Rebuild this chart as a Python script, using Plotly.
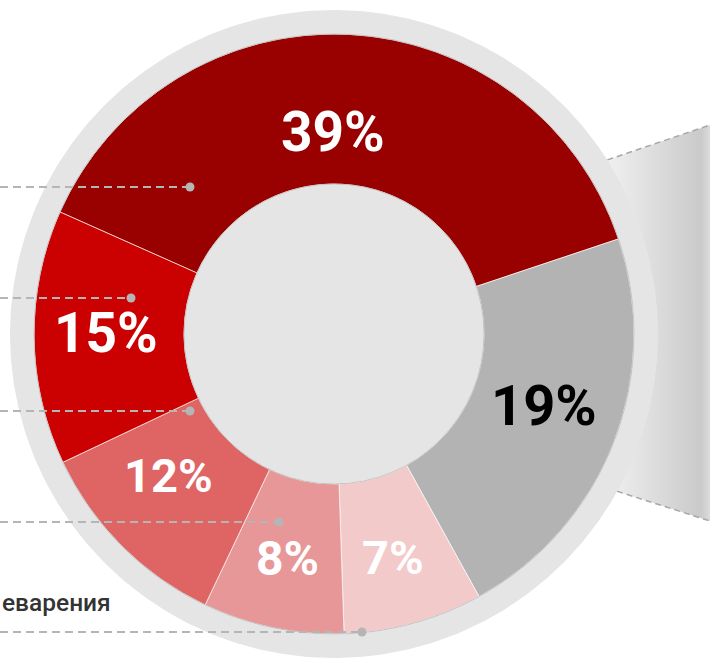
import numpy as np
import plotly.graph_objects as go

# ---- data ----
slice_names = ["A", "B", "C", "D", "E", "F"]
slice_shares = [38.2, 22.1, 7.5, 7.6, 10.9, 13.7]
slice_labels = ["39%", "19%", "7%", "8%", "12%", "15%"]
slice_colors = ["#990000", "#b3b3b3", "#f2caca", "#e79797", "#df6565", "#cb0000"]
label_colors = ["white", "black", "white", "white", "white", "white"]
label_sizes = [55, 56, 47, 48, 47, 55]
label_radius = [0.673, 0.74, 0.772, 0.763, 0.728, 0.76]
label_turn = [-3.0, -2.4, 0.6, 0.0, 4.4, 1.0]
visible_caption = "еварения"

W, H = 710, 662
CX, CY = 334, 334
R_PIE, R_RING, HOLE = 300, 324, 0.5
ROT = -66

fig = go.Figure()

# gradient funnel on the right
fig.add_trace(go.Scatter(
    x=[560, 710, 710, 560, 560], y=[176, 125, 521, 473, 176],
    mode="lines", line=dict(width=0), fill="toself",
    fillgradient=dict(type="horizontal",
                      colorscale=[[0, "#f2f2f2"], [0.35, "#eeeeee"], [0.94, "#cacaca"], [1, "#dcdcdc"]]),
    hoverinfo="skip", showlegend=False))
for (x0, y0, x1, y1) in [(560, 176, 710, 125), (560, 473, 710, 521)]:
    fig.add_trace(go.Scatter(x=[x0, x1], y=[y0, y1], mode="lines",
                             line=dict(color="#a8a8a8", width=1.5, dash="6px,4px"),
                             hoverinfo="skip", showlegend=False))

# outer light ring (full disk)
t = np.linspace(0, 2 * np.pi, 400)
fig.add_trace(go.Scatter(x=CX + R_RING * np.cos(t), y=CY + R_RING * np.sin(t),
                         mode="lines", line=dict(width=0), fill="toself",
                         fillcolor="#e5e5e5", hoverinfo="skip", showlegend=False))

# donut
fig.add_trace(go.Pie(
    labels=slice_names, values=slice_shares, sort=False, direction="clockwise",
    rotation=ROT, hole=HOLE, textinfo="none", hoverinfo="skip",
    marker=dict(colors=slice_colors, line=dict(color="rgba(255,255,255,0.65)", width=1)),
    domain=dict(x=[(CX - R_PIE) / W, (CX + R_PIE) / W],
                y=[(H - CY - R_PIE) / H, (H - CY + R_PIE) / H]),
    showlegend=False))

# labels computed from slice mid-angles
total = sum(slice_shares)
cum = 0
annotations = []
for v, txt, col, sz, rf, turn in zip(slice_shares, slice_labels, label_colors,
                                     label_sizes, label_radius, label_turn):
    mid = np.radians(ROT + 360 * (cum + v / 2) / total + turn)
    cum += v
    annotations.append(dict(
        x=CX + R_PIE * rf * np.sin(mid), y=CY - R_PIE * rf * np.cos(mid),
        xref="x", yref="y", text=txt, showarrow=False,
        font=dict(family="Roboto", size=sz, color=col, weight="bold"),
        xanchor="center", yanchor="middle"))

annotations.append(dict(x=0, y=602, xref="x", yref="y", text=visible_caption,
                        showarrow=False, xanchor="left", yanchor="middle",
                        font=dict(family="Roboto", size=24.5, color="#333333", weight=500)))

shapes = [
    dict(type="circle", xref="x", yref="y", x0=CX - R_PIE, x1=CX + R_PIE,
         y0=CY - R_PIE, y1=CY + R_PIE, line=dict(color="#c4c4c4", width=1), layer="above"),
    dict(type="circle", xref="x", yref="y", x0=CX - R_PIE * HOLE, x1=CX + R_PIE * HOLE,
         y0=CY - R_PIE * HOLE, y1=CY + R_PIE * HOLE, line=dict(color="#c4c4c4", width=1),
         layer="above"),
]
# leader lines with dots
leaders = [(187, 190), (298, 131), (411, 190), (522, 279), (632, 362)]
for (ly, lx) in leaders:
    shapes.append(dict(type="line", xref="x", yref="y", x0=0, x1=lx, y0=ly, y1=ly,
                       line=dict(color="#b5b5b5", width=2, dash="8px,5px"), layer="above"))
    shapes.append(dict(type="circle", xref="x", yref="y", x0=lx - 4.5, x1=lx + 4.5,
                       y0=ly - 4.5, y1=ly + 4.5, fillcolor="#b5b5b5",
                       line=dict(width=0), layer="above"))

fig.update_layout(
    width=W, height=H, autosize=False,
    margin=dict(l=0, r=0, t=0, b=0, pad=0),
    paper_bgcolor="white", plot_bgcolor="rgba(0,0,0,0)",
    xaxis=dict(range=[0, W], visible=False, fixedrange=True),
    yaxis=dict(range=[H, 0], visible=False, fixedrange=True),
    annotations=annotations, shapes=shapes,
)

fig.write_html("out.html", config={"displayModeBar": False},
               post_script="document.body.style.margin='0px';document.body.style.overflow='hidden';")
